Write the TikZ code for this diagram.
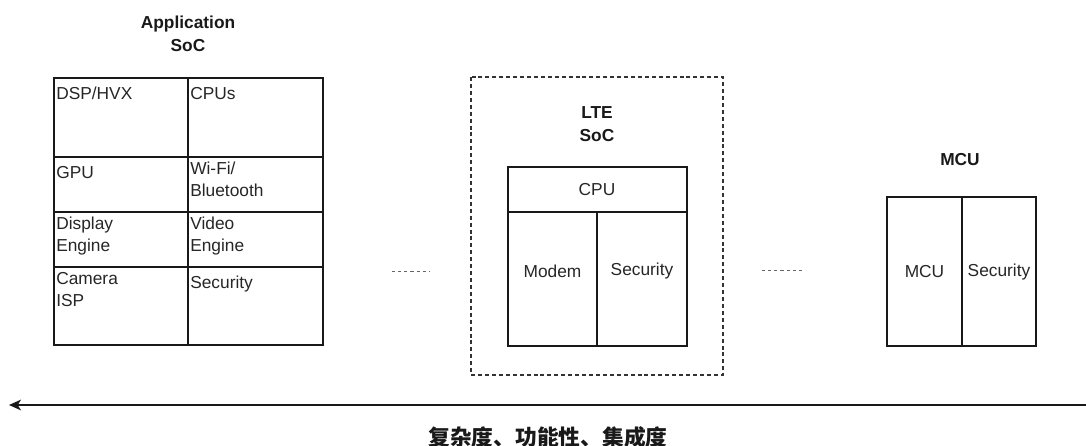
\documentclass[tikz,border=0pt]{standalone}
\usepackage{fontspec}
\setmainfont{Liberation Sans}
\newfontfamily\cjk{Noto Sans CJK SC}
\usetikzlibrary{arrows.meta}
\begin{document}
\begin{tikzpicture}[x=0.75pt,y=-0.75pt,
  box/.style={draw=black!90, line width=1.1pt},
  dashbox/.style={draw=black!80, line width=1.1pt, dash pattern=on 3pt off 2.2pt},
  lbl/.style={font=\fontsize{13}{16.5}\selectfont, inner sep=0pt, align=left, anchor=base west, text=black!85},
  ctr/.style={font=\fontsize{13}{16.5}\selectfont, inner sep=0pt, text=black!85},
  ttl/.style={font=\fontsize{13}{17}\selectfont\bfseries, inner sep=0pt, align=center, text=black!90},
  dots/.style={draw=black!60, line width=0.6pt, dash pattern=on 2.4pt off 2.2pt},
  axis/.style={draw=black!90, line width=1.3pt, -{Stealth[length=9pt,width=8pt,inset=2.5pt]}}]
\useasboundingbox (0,0) rectangle (1086,446);

% ---- Application SoC ----
\node[ttl] (appTitle) at (188,34) {Application\\SoC};
\draw[box] (54,78) rectangle (323,345);
\draw[box] (188,78) -- (188,345);
\draw[box] (54,157) -- (323,157);
\draw[box] (54,212) -- (323,212);
\draw[box] (54,267) -- (323,267);
% two-line labels are placed by the baseline of their last line
\node[lbl] (dsp)     at (56,99)  {DSP/HVX};
\node[lbl] (cpus)    at (190,99) {CPUs};
\node[lbl] (gpu)     at (56,178) {GPU};
\node[lbl] (wifi)    at (190,196) {Wi-Fi/\\Bluetooth};
\node[lbl] (disp)    at (56,251) {Display\\Engine};
\node[lbl] (video)   at (190,251) {Video\\Engine};
\node[lbl] (camera)  at (56,306) {Camera\\ISP};
\node[lbl] (appsec)  at (190,288) {Security};

% ---- LTE SoC ----
\draw[dots] (392,271) -- (430,271);
\draw[dashbox] (471,77) rectangle (723,375);
\node[ttl] (lteTitle) at (597,124) {LTE\\SoC};
\draw[box] (508,167) rectangle (687,346);
\draw[box] (508,212) -- (687,212);
\draw[box] (597,212) -- (597,346);
\node[ctr] (ltecpu) at (597,190) {CPU};
\node[ctr] (modem)  at (552.5,271) {Modem};
\node[ctr] (ltesec) at (642,271) {Security};

% ---- MCU ----
\draw[dots] (762,270) -- (802,270);
\node[ttl] (mcuTitle) at (960,160) {MCU};
\draw[box] (887,197) rectangle (1036,346);
\draw[box] (962,197) -- (962,346);
\node[ctr] (mcucore) at (924.5,272) {MCU};
\node[ctr] (mcusec)  at (999,272) {Security};

% ---- trend axis ----
\coordinate (axisStart) at (1086,405);
\coordinate (axisEnd) at (9,405);
\draw[axis] (axisStart) -- (axisEnd);
\node[font=\cjk\bfseries\fontsize{16.3}{18}\selectfont, inner sep=0pt, text=black!90] (trend) at (548,437) {复杂度、功能性、集成度};
\end{tikzpicture}
\end{document}
